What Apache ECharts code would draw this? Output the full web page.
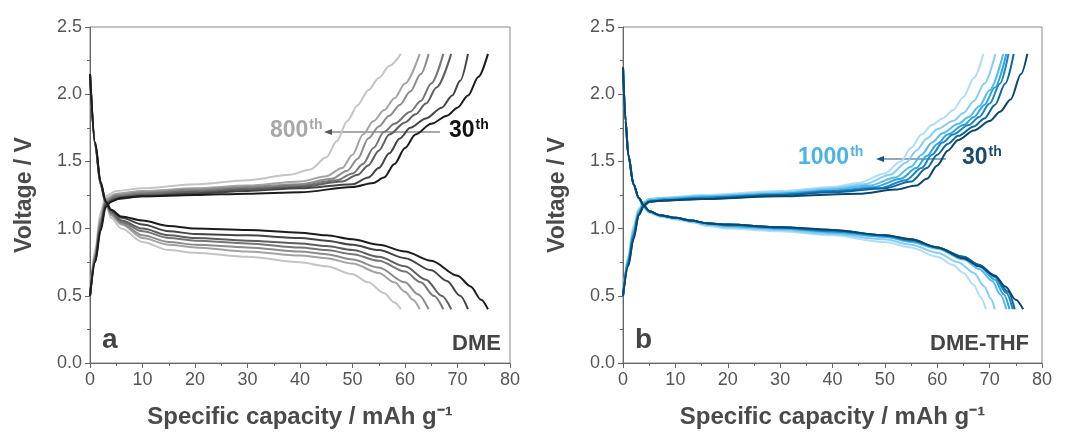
<!DOCTYPE html>
<html>
<head>
<meta charset="utf-8">
<title>Charge/discharge profiles DME vs DME-THF</title>
<script src="https://cdn.jsdelivr.net/npm/echarts@6/dist/echarts.min.js"></script>
<style>
  html, body { margin: 0; padding: 0; background: #fff; }
  #chart { width: 1069px; height: 434px; }
</style>
</head>
<body>
<div id="chart"></div>
<script>
// axis ticks
var xTicks = [0, 10, 20, 30, 40, 50, 60, 70, 80];
var yTicks = [0.0, 0.5, 1.0, 1.5, 2.0, 2.5];

// panel a (DME), index 0 = 800th cycle ... index 6 = 30th cycle
var dmeCharge = [
  [[0,0.5],[1,0.85],[2,1.12],[3,1.24],[5,1.28],[10,1.3],[20,1.33],[30,1.36],[38,1.4],[42,1.44],[45,1.53],[47,1.65],[49,1.8],[51,1.92],[53,2.03],[55,2.12],[57,2.21],[59.2,2.3]],
  [[0,0.5],[1,0.82],[2,1.08],[3,1.22],[5,1.26],[10,1.28],[20,1.3],[30,1.32],[40,1.35],[45,1.39],[48,1.45],[50,1.55],[52,1.7],[54,1.8],[56,1.88],[58,1.97],[60,2.08],[62.8,2.3]],
  [[0,0.5],[1,0.8],[2,1.06],[3,1.21],[5,1.25],[10,1.27],[20,1.29],[30,1.31],[40,1.33],[46,1.37],[49,1.43],[51,1.52],[53,1.67],[55,1.76],[57,1.84],[59,1.92],[61,2.02],[63,2.15],[64.5,2.3]],
  [[0,0.5],[1,0.79],[2,1.04],[3,1.2],[5,1.24],[10,1.26],[20,1.28],[30,1.3],[40,1.32],[47,1.36],[50,1.41],[52,1.48],[54,1.6],[56,1.72],[58,1.78],[61,1.87],[63,1.95],[65,2.08],[67.3,2.3]],
  [[0,0.5],[1,0.78],[2,1.02],[3,1.19],[5,1.23],[10,1.25],[20,1.27],[30,1.29],[40,1.31],[48,1.35],[51,1.4],[53,1.47],[55,1.58],[57,1.7],[60,1.79],[62,1.85],[64,1.93],[66,2.05],[68.8,2.3]],
  [[0,0.5],[1,0.76],[2,1.0],[3,1.18],[5,1.22],[10,1.24],[20,1.26],[30,1.28],[40,1.3],[50,1.33],[53,1.38],[55,1.45],[57,1.56],[59,1.67],[61,1.75],[64,1.82],[67,1.9],[69,1.99],[70.5,2.1],[72,2.3]],
  [[0,0.5],[1,0.75],[2,0.98],[3,1.16],[4,1.2],[6,1.23],[10,1.24],[20,1.25],[30,1.26],[40,1.27],[50,1.31],[54,1.34],[56,1.38],[58,1.48],[60,1.6],[62,1.7],[65,1.78],[68,1.84],[70,1.9],[72,1.99],[74,2.13],[75.8,2.3]]
];
var dmeDischarge = [
  [[0,2.15],[1,1.62],[2,1.33],[3,1.18],[4,1.08],[6,1.0],[10,0.9],[15,0.84],[20,0.82],[30,0.79],[40,0.75],[45,0.72],[50,0.66],[53,0.6],[56,0.52],[58,0.45],[59.2,0.4]],
  [[0,2.15],[1,1.62],[2,1.33],[3,1.18],[4,1.1],[6,1.03],[10,0.93],[15,0.88],[20,0.86],[30,0.83],[40,0.8],[45,0.78],[50,0.74],[55,0.67],[58,0.6],[60,0.53],[61.5,0.47],[62.8,0.4]],
  [[0,2.15],[1,1.62],[2,1.33],[3,1.19],[4,1.11],[6,1.04],[10,0.95],[15,0.9],[20,0.88],[30,0.86],[40,0.83],[45,0.81],[50,0.77],[55,0.71],[60,0.6],[62.5,0.51],[64.5,0.4]],
  [[0,2.15],[1,1.62],[2,1.33],[3,1.19],[4,1.12],[6,1.05],[10,0.98],[15,0.93],[20,0.91],[30,0.89],[40,0.86],[45,0.84],[50,0.81],[55,0.76],[60,0.68],[63,0.6],[65.5,0.5],[67.3,0.4]],
  [[0,2.15],[1,1.62],[2,1.34],[3,1.2],[4,1.13],[6,1.06],[10,1.0],[15,0.95],[20,0.93],[30,0.91],[40,0.89],[45,0.87],[50,0.84],[55,0.79],[60,0.72],[64,0.62],[67,0.5],[68.8,0.4]],
  [[0,2.15],[1,1.63],[2,1.34],[3,1.2],[4,1.14],[6,1.08],[10,1.03],[15,0.98],[20,0.96],[30,0.95],[40,0.93],[45,0.91],[50,0.88],[55,0.84],[60,0.78],[65,0.69],[68,0.61],[70.5,0.5],[72,0.4]],
  [[0,2.15],[1,1.64],[2,1.35],[3,1.2],[4,1.14],[6,1.09],[10,1.06],[15,1.02],[20,1.0],[30,0.99],[40,0.97],[45,0.95],[50,0.92],[55,0.88],[60,0.83],[65,0.76],[70,0.65],[72.5,0.57],[74.5,0.47],[75.8,0.4]]
];

// panel b (DME-THF), index 0 = 1000th cycle ... index 6 = 30th cycle
var thfCharge = [
  [[0,0.5],[1,0.8],[2,1.02],[3,1.15],[4,1.2],[5,1.22],[8,1.23],[15,1.25],[30,1.28],[40,1.31],[45,1.34],[50,1.41],[53,1.5],[55,1.6],[57,1.7],[59,1.77],[61,1.82],[63,1.88],[65,1.98],[67,2.12],[68.8,2.3]],
  [[0,0.5],[1,0.78],[2,1.0],[3,1.14],[4,1.19],[5,1.22],[8,1.23],[15,1.24],[30,1.27],[40,1.3],[46,1.33],[51,1.4],[54,1.49],[56,1.58],[58,1.67],[60,1.74],[63,1.8],[65,1.86],[67,1.95],[69,2.08],[71.1,2.3]],
  [[0,0.5],[1,0.77],[2,0.98],[3,1.13],[4,1.19],[5,1.21],[8,1.22],[15,1.24],[30,1.26],[40,1.29],[47,1.32],[52,1.38],[55,1.46],[57,1.55],[59,1.64],[61,1.71],[64,1.78],[66,1.83],[68,1.91],[70,2.03],[72.6,2.3]],
  [[0,0.5],[1,0.76],[2,0.96],[3,1.12],[4,1.18],[5,1.21],[8,1.22],[15,1.23],[30,1.26],[40,1.28],[48,1.31],[53,1.37],[56,1.45],[58,1.54],[60,1.63],[62,1.7],[65,1.77],[67,1.83],[69,1.92],[71,2.05],[73.2,2.3]],
  [[0,0.5],[1,0.75],[2,0.95],[3,1.11],[4,1.18],[5,1.2],[8,1.21],[15,1.23],[30,1.25],[40,1.28],[49,1.3],[54,1.36],[57,1.45],[59,1.55],[61,1.64],[63,1.7],[66,1.77],[68,1.83],[70,1.93],[72,2.08],[73.6,2.3]],
  [[0,0.5],[1,0.73],[2,0.93],[3,1.1],[4,1.17],[5,1.2],[8,1.21],[15,1.22],[30,1.25],[40,1.27],[50,1.3],[55,1.35],[58,1.45],[60,1.55],[62,1.63],[64,1.69],[67,1.76],[69,1.82],[71,1.92],[73,2.08],[74.6,2.3]],
  [[0,0.5],[1,0.72],[2,0.92],[3,1.1],[4,1.17],[5,1.2],[8,1.21],[15,1.22],[30,1.24],[45,1.26],[52,1.29],[56,1.32],[58,1.37],[60,1.47],[62,1.58],[64,1.66],[67,1.73],[70,1.8],[72,1.87],[74,1.96],[76,2.15],[77.2,2.3]]
];
var thfDischarge = [
  [[0,2.2],[0.5,1.8],[1,1.55],[2,1.33],[3,1.22],[4,1.15],[5,1.12],[7,1.09],[10,1.07],[13,1.05],[16,1.02],[20,1.0],[30,0.98],[40,0.95],[50,0.9],[55,0.86],[60,0.79],[63,0.73],[65,0.67],[67,0.58],[68.3,0.49],[69.3,0.4]],
  [[0,2.2],[0.5,1.8],[1,1.55],[2,1.33],[3,1.22],[4,1.16],[5,1.12],[7,1.09],[10,1.07],[13,1.05],[16,1.03],[20,1.01],[30,0.99],[40,0.96],[50,0.92],[55,0.88],[60,0.82],[64,0.75],[67,0.67],[69,0.57],[70.2,0.48],[71,0.4]],
  [[0,2.2],[0.5,1.8],[1,1.55],[2,1.33],[3,1.23],[4,1.16],[5,1.13],[7,1.1],[10,1.08],[13,1.06],[16,1.03],[20,1.02],[30,1.0],[40,0.97],[50,0.94],[55,0.9],[60,0.85],[65,0.77],[68,0.7],[70.5,0.61],[72,0.51],[73.2,0.4]],
  [[0,2.2],[0.5,1.8],[1,1.55],[2,1.33],[3,1.23],[4,1.17],[5,1.13],[7,1.1],[10,1.08],[13,1.06],[16,1.04],[20,1.02],[30,1.0],[40,0.98],[50,0.94],[55,0.91],[60,0.86],[65,0.78],[68,0.72],[71,0.62],[72.7,0.51],[73.8,0.4]],
  [[0,2.2],[0.5,1.8],[1,1.55],[2,1.33],[3,1.23],[4,1.17],[5,1.13],[7,1.1],[10,1.08],[13,1.06],[16,1.04],[20,1.03],[30,1.01],[40,0.98],[50,0.95],[55,0.91],[60,0.86],[65,0.79],[68,0.73],[71,0.64],[73.2,0.52],[74.4,0.4]],
  [[0,2.2],[0.5,1.8],[1,1.55],[2,1.33],[3,1.23],[4,1.17],[5,1.13],[7,1.1],[10,1.08],[13,1.06],[16,1.04],[20,1.03],[30,1.01],[40,0.99],[50,0.95],[55,0.92],[60,0.86],[65,0.79],[68,0.73],[71,0.65],[73.5,0.53],[74.8,0.4]],
  [[0,2.2],[0.5,1.8],[1,1.55],[2,1.33],[3,1.23],[4,1.17],[5,1.13],[7,1.1],[10,1.08],[13,1.06],[16,1.04],[20,1.03],[30,1.01],[40,0.99],[50,0.95],[55,0.92],[60,0.86],[65,0.78],[68,0.72],[71,0.65],[73,0.57],[75,0.47],[76.4,0.4]]
];

var greyShades = ['#c4c4c4', '#a3a3a3', '#8c8c8c', '#767676', '#5e5e5e', '#444444', '#1c1c1c'];
var blueShades = ['#b0def6', '#87cdf2', '#56bbec', '#2fa3df', '#1686c4', '#0e669c', '#0b476b'];

var FONT = 'Liberation Sans, Arial, sans-serif';

function makeSeries(curves, colors, axisIdx) {
  var out = [];
  for (var i = 0; i < curves.length; i++) {
    out.push({
      type: 'line',
      xAxisIndex: axisIdx,
      yAxisIndex: axisIdx,
      data: curves[i],
      showSymbol: false,
      smooth: 0.3,
      smoothMonotone: 'x',
      lineStyle: { width: 2, color: colors[i] },
      z: 2 + i
    });
  }
  return out;
}

function xAxisOpt(idx) {
  return {
    gridIndex: idx, type: 'value', min: 0, max: 80, interval: 10,
    name: 'Specific capacity / mAh g\u207B\u00B9', nameLocation: 'middle', nameGap: 42,
    nameTextStyle: { fontFamily: FONT, fontSize: 24, fontWeight: 'bold', color: '#4a4a4a' },
    axisLine: { lineStyle: { color: '#666', width: 1 } },
    axisTick: { show: true, length: 5, lineStyle: { color: '#666' } },
    minorTick: { show: true, splitNumber: 2, length: 3, lineStyle: { color: '#666' } },
    axisLabel: { fontFamily: FONT, fontSize: 18, color: '#555', margin: 8,
      formatter: function (v) { return xTicks.indexOf(v) >= 0 ? String(v) : ''; } },
    splitLine: { show: false }
  };
}

function yAxisOpt(idx) {
  return {
    gridIndex: idx, type: 'value', min: 0, max: 2.5, interval: 0.5,
    name: 'Voltage / V', nameLocation: 'middle', nameGap: 54, nameRotate: 90,
    nameTextStyle: { fontFamily: FONT, fontSize: 23, fontWeight: 'bold', color: '#4a4a4a' },
    axisLine: { lineStyle: { color: '#666', width: 1 } },
    axisTick: { show: true, length: 5, lineStyle: { color: '#666' } },
    minorTick: { show: true, splitNumber: 2, length: 3, lineStyle: { color: '#666' } },
    axisLabel: { fontFamily: FONT, fontSize: 18, color: '#555', margin: 8,
      formatter: function (v) { return yTicks.indexOf(v) >= 0 ? v.toFixed(1) : ''; } },
    splitLine: { show: false }
  };
}

var chart = echarts.init(document.getElementById('chart'), null, { renderer: 'canvas' });

var series = []
  .concat(makeSeries(dmeCharge, greyShades, 0))
  .concat(makeSeries(dmeDischarge, greyShades, 0))
  .concat(makeSeries(thfCharge, blueShades, 1))
  .concat(makeSeries(thfDischarge, blueShades, 1));

var boldBig = { fontFamily: FONT, fontSize: 23, fontWeight: 'bold' };
var sup = { fontFamily: FONT, fontSize: 14, fontWeight: 'bold', verticalAlign: 'top', padding: [0, 0, 11, 1] };

chart.setOption({
  animation: false,
  backgroundColor: '#fff',
  grid: [
    { left: 90, top: 27, width: 420, height: 338, show: true, borderColor: '#888', borderWidth: 1 },
    { left: 623, top: 27, width: 419, height: 338, show: true, borderColor: '#888', borderWidth: 1 }
  ],
  xAxis: [xAxisOpt(0), xAxisOpt(1)],
  yAxis: [yAxisOpt(0), yAxisOpt(1)],
  series: series,
  graphic: [
    // panel a labels
    { type: 'text', left: 102, top: 326, style: { text: 'a', fontFamily: FONT, fontSize: 28, fontWeight: 'bold', fill: '#444' } },
    { type: 'text', right: 568, top: 333, style: { text: 'DME', fontFamily: FONT, fontSize: 22, fontWeight: 'bold', fill: '#444' } },
    { type: 'text', left: 270, top: 118, style: { text: '{n|800}{s|th}', rich: { n: Object.assign({ fill: '#a8a8a8' }, boldBig), s: Object.assign({ fill: '#a8a8a8' }, sup) } } },
    { type: 'line', shape: { x1: 440, y1: 132, x2: 330, y2: 132 }, style: { stroke: '#555', lineWidth: 1.2 } },
    { type: 'polygon', shape: { points: [[324, 132], [332, 129], [332, 135]] }, style: { fill: '#555' } },
    { type: 'text', left: 449, top: 118, style: { text: '{n|30}{s|th}', rich: { n: Object.assign({ fill: '#111' }, boldBig), s: Object.assign({ fill: '#111' }, sup) } } },
    // panel b labels
    { type: 'text', left: 635, top: 326, style: { text: 'b', fontFamily: FONT, fontSize: 28, fontWeight: 'bold', fill: '#444' } },
    { type: 'text', right: 40, top: 333, style: { text: 'DME-THF', fontFamily: FONT, fontSize: 22, fontWeight: 'bold', fill: '#444' } },
    { type: 'text', left: 798, top: 145, style: { text: '{n|1000}{s|th}', rich: { n: Object.assign({ fill: '#4db2e8' }, boldBig), s: Object.assign({ fill: '#4db2e8' }, sup) } } },
    { type: 'line', shape: { x1: 946, y1: 159, x2: 882, y2: 159 }, style: { stroke: '#1c5478', lineWidth: 1.2 } },
    { type: 'polygon', shape: { points: [[876, 159], [884, 156], [884, 162]] }, style: { fill: '#1c5478' } },
    { type: 'text', left: 962, top: 145, style: { text: '{n|30}{s|th}', rich: { n: Object.assign({ fill: '#1b4a6c' }, boldBig), s: Object.assign({ fill: '#1b4a6c' }, sup) } } }
  ]
});
</script>
</body>
</html>
